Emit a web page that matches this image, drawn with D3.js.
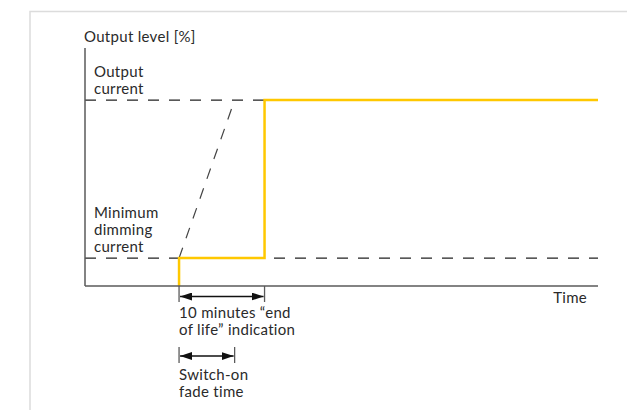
<!DOCTYPE html>
<html>
<head>
<meta charset="utf-8">
<script src="https://cdn.jsdelivr.net/npm/d3@7/dist/d3.min.js"></script>
<style>
  body { margin: 0; background: #fff; }
  svg text { font-family: Lato, "Noto Sans", sans-serif; font-size: 15px; letter-spacing: 0.3px; fill: #2a2a2a; }
</style>
</head>
<body>
<svg id="chart" width="627" height="410"></svg>
<script>
// time in minutes, output level in %
var levels = [{name: ["Output", "current"], value: 100},
              {name: ["Minimum", "dimming", "current"], value: 15}];
var switchOn = 11;        // lamp switched on
var fadeTime = 6.5;       // switch-on fade
var eolTime = 10;         // "end of life" indication
var timeMax = 60;
var levelMax = 128;

var outputLine = [[switchOn, 0], [switchOn, 15], [switchOn + eolTime, 15],
                  [switchOn + eolTime, 100], [timeMax, 100]];
var fadeLine = [[switchOn, 15], [switchOn + fadeTime, 100]];

var axisLabels = {y: "Output level [%]", x: "Time"};
var eolLabel = ["10 minutes \u201Cend", "of life\u201D indication"];
var fadeLabel = ["Switch-on", "fade time"];

d3.select(window).on('load', init);

function init() {
    var svg = d3.select('#chart');

    // light frame
    svg.append('path')
        .attr('d', 'M30,410 V11.5 H627')
        .attr('fill', 'none')
        .attr('stroke', '#dcdcdc')
        .attr('stroke-width', 1.5);

    var x = d3.scaleLinear().domain([0, timeMax]).range([85, 598]);
    var y = d3.scaleLinear().domain([0, levelMax]).range([286, 48]);

    var axisCol = '#5a5a5a';

    // dashed reference levels
    svg.selectAll('.level')
        .data(levels)
        .enter()
        .append('line')
        .attr('x1', x(0))
        .attr('x2', x(timeMax))
        .attr('y1', function(d){ return y(d.value); })
        .attr('y2', function(d){ return y(d.value); })
        .attr('stroke', '#222')
        .attr('stroke-width', 1.2)
        .attr('stroke-dasharray', '11,10');

    svg.selectAll('.levelLabel')
        .data(levels)
        .enter()
        .append('text')
        .attr('x', 94)
        .attr('y', function(d){ return y(d.value) - 6 - (d.name.length - 1) * 17; })
        .each(function(d){
            var t = d3.select(this);
            d.name.forEach(function(s, i){
                t.append('tspan').attr('x', 94).attr('dy', i ? 17 : 0).text(s);
            });
        });

    // fade ramp
    var line = d3.line()
        .x(function(d){ return x(d[0]); })
        .y(function(d){ return y(d[1]); });

    svg.append('path')
        .attr('d', line(fadeLine))
        .attr('fill', 'none')
        .attr('stroke', '#444')
        .attr('stroke-width', 1.2)
        .attr('stroke-dasharray', '11,10');

    // output
    svg.append('path')
        .attr('d', line(outputLine))
        .attr('fill', 'none')
        .attr('stroke', '#ffc800')
        .attr('stroke-width', 2.5);

    // axes
    svg.append('line')
        .attr('x1', x(0)).attr('x2', x(0))
        .attr('y1', y(levelMax)).attr('y2', y(0))
        .attr('stroke', axisCol).attr('stroke-width', 1.5);
    svg.append('line')
        .attr('x1', x(0)).attr('x2', x(timeMax))
        .attr('y1', y(0)).attr('y2', y(0))
        .attr('stroke', axisCol).attr('stroke-width', 1.5);

    svg.append('text')
        .attr('x', 84).attr('y', 42)
        .text(axisLabels.y);
    svg.append('text')
        .attr('x', 587).attr('y', 303)
        .attr('text-anchor', 'end')
        .text(axisLabels.x);

    // dimension arrows
    var defs = svg.append('defs');
    ['start', 'end'].forEach(function(k){
        defs.append('marker')
            .attr('id', 'arr-' + k)
            .attr('viewBox', '0 0 12 8')
            .attr('refX', k == 'end' ? 12 : 0).attr('refY', 4)
            .attr('markerWidth', 12).attr('markerHeight', 8)
            .attr('markerUnits', 'userSpaceOnUse')
            .attr('orient', 'auto')
            .append('path')
            .attr('d', k == 'end' ? 'M0,0 L12,4 L0,8 Z' : 'M12,0 L0,4 L12,8 Z')
            .attr('fill', '#111');
    });

    function dimension(t0, t1, ay, tickTop, tickBot, label, ly) {
        [t0, t1].forEach(function(t){
            svg.append('line')
                .attr('x1', x(t)).attr('x2', x(t))
                .attr('y1', tickTop).attr('y2', tickBot)
                .attr('stroke', axisCol).attr('stroke-width', 1.3);
        });
        svg.append('line')
            .attr('x1', x(t0) + 1).attr('x2', x(t1) - 1)
            .attr('y1', ay).attr('y2', ay)
            .attr('stroke', '#111').attr('stroke-width', 1.3)
            .attr('marker-start', 'url(#arr-start)')
            .attr('marker-end', 'url(#arr-end)');
        var t = svg.append('text').attr('x', x(t0)).attr('y', ly);
        label.forEach(function(s, i){
            t.append('tspan').attr('x', x(t0)).attr('dy', i ? 17 : 0).text(s);
        });
    }

    dimension(switchOn, switchOn + eolTime, 296.5, y(0), 302, eolLabel, 318);
    dimension(switchOn, switchOn + fadeTime, 356, 347, 363, fadeLabel, 380);
}
</script>
</body>
</html>
